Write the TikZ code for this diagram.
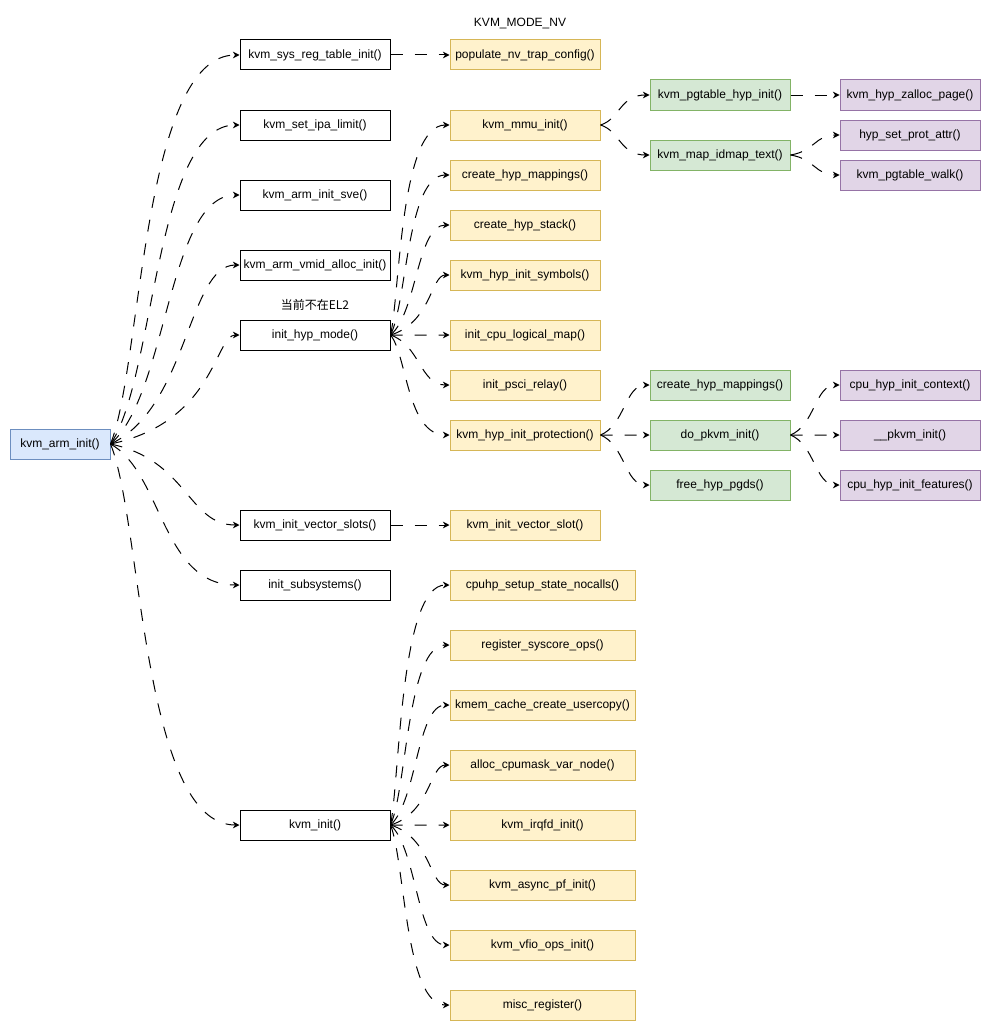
\documentclass[tikz,border=0pt]{standalone}
\usepackage{fontspec}
\setmainfont{Liberation Sans}
\newfontfamily\cjk{Noto Sans CJK SC}
\usetikzlibrary{arrows.meta,calc}
\definecolor{bluefill}{HTML}{DAE8FC}
\definecolor{blueline}{HTML}{6C8EBF}
\definecolor{yellowfill}{HTML}{FFF2CC}
\definecolor{yellowline}{HTML}{D6B656}
\definecolor{greenfill}{HTML}{D5E8D4}
\definecolor{greenline}{HTML}{82B366}
\definecolor{purplefill}{HTML}{E1D5E7}
\definecolor{purpleline}{HTML}{9673A6}

\begin{document}
\begin{tikzpicture}[x=0.75pt,y=-0.75pt,
  fn/.style={draw,line width=0.75pt,minimum width=112.5pt,minimum height=22.5pt,inner sep=0pt,font=\fontsize{9}{11}\selectfont},
  root/.style={fn,minimum width=75pt,fill=bluefill,draw=blueline},
  lvlone/.style={fn},
  lvltwo/.style={fn,fill=yellowfill,draw=yellowline},
  lvltwowide/.style={lvltwo,minimum width=138.75pt},
  lvlthree/.style={fn,minimum width=105pt,fill=greenfill,draw=greenline},
  lvlfour/.style={fn,minimum width=105pt,fill=purplefill,draw=purpleline},
  call/.style={-{Stealth[length=5pt,width=5pt]},line width=0.75pt,dash pattern=on 9pt off 9pt},
  note/.style={font=\fontsize{9}{11}\selectfont}]
  \useasboundingbox (0,0) rectangle (992,1031);
  % raiz
  \node[root] (armi) at (60,444) {kvm\_arm\_init()};
  % primeiro nivel
  \node[lvlone] (sysreg) at (315,55) {kvm\_sys\_reg\_table\_init()};
  \node[lvlone] (ipa) at (315,125) {kvm\_set\_ipa\_limit()};
  \node[lvlone] (sve) at (315,195) {kvm\_arm\_init\_sve()};
  \node[lvlone] (vmid) at (315,265) {kvm\_arm\_vmid\_alloc\_init()};
  \node[lvlone] (hypmode) at (315,335) {init\_hyp\_mode()};
  \node[lvlone] (vecslots) at (315,525) {kvm\_init\_vector\_slots()};
  \node[lvlone] (subsys) at (315,585) {init\_subsystems()};
  \node[lvlone] (kinit) at (315,825) {kvm\_init()};
  \node[note] (el2note) at (315,305) {\cjk 当前不在EL2};
  % segundo nivel
  \node[lvltwo] (nvtrap) at (525,55) {populate\_nv\_trap\_config()};
  \node[note] (nvnote) at (520,24) {KVM\_MODE\_NV};
  \node[lvltwo] (mmu) at (525,125) {kvm\_mmu\_init()};
  \node[lvltwo] (hypmap) at (525,175) {create\_hyp\_mappings()};
  \node[lvltwo] (hypstack) at (525,225) {create\_hyp\_stack()};
  \node[lvltwo] (hypsym) at (525,275) {kvm\_hyp\_init\_symbols()};
  \node[lvltwo] (cpumap) at (525,335) {init\_cpu\_logical\_map()};
  \node[lvltwo] (psci) at (525,385) {init\_psci\_relay()};
  \node[lvltwo] (hypprot) at (525,435) {kvm\_hyp\_init\_protection()};
  \node[lvltwo] (vecslot) at (525,525) {kvm\_init\_vector\_slot()};
  \node[lvltwowide] (cpuhp) at (542.5,585) {cpuhp\_setup\_state\_nocalls()};
  \node[lvltwowide] (syscore) at (542.5,645) {register\_syscore\_ops()};
  \node[lvltwowide] (kmem) at (542.5,705) {kmem\_cache\_create\_usercopy()};
  \node[lvltwowide] (cpumask) at (542.5,765) {alloc\_cpumask\_var\_node()};
  \node[lvltwowide] (irqfd) at (542.5,825) {kvm\_irqfd\_init()};
  \node[lvltwowide] (asyncpf) at (542.5,885) {kvm\_async\_pf\_init()};
  \node[lvltwowide] (vfio) at (542.5,945) {kvm\_vfio\_ops\_init()};
  \node[lvltwowide] (misc) at (542.5,1005) {misc\_register()};
  % terceiro nivel
  \node[lvlthree] (pgtinit) at (720,95) {kvm\_pgtable\_hyp\_init()};
  \node[lvlthree] (idmap) at (720,155) {kvm\_map\_idmap\_text()};
  \node[lvlthree] (pmap) at (720,385) {create\_hyp\_mappings()};
  \node[lvlthree] (dopkvm) at (720,435) {do\_pkvm\_init()};
  \node[lvlthree] (freepgd) at (720,485) {free\_hyp\_pgds()};
  % quarto nivel
  \node[lvlfour] (zalloc) at (910,95) {kvm\_hyp\_zalloc\_page()};
  \node[lvlfour] (protattr) at (910,135) {hyp\_set\_prot\_attr()};
  \node[lvlfour] (pgwalk) at (910,175) {kvm\_pgtable\_walk()};
  \node[lvlfour] (hypctx) at (910,385) {cpu\_hyp\_init\_context()};
  \node[lvlfour] (pkvm) at (910,435) {\_\_pkvm\_init()};
  \node[lvlfour] (hypfeat) at (910,485) {cpu\_hyp\_init\_features()};
  % chamadas (\v = x da parte vertical)
  \foreach \s/\t/\v in {armi/sysreg/142,armi/ipa/155,armi/sve/168,armi/vmid/188,armi/hypmode/215,
      armi/vecslots/188,armi/subsys/162,armi/kinit/142,
      hypmode/mmu/400,hypmode/hypmap/407,hypmode/hypstack/417,hypmode/hypsym/431,hypmode/cpumap/420,
      hypmode/psci/420,hypmode/hypprot/407,
      kinit/cpuhp/400,kinit/syscore/407,kinit/kmem/417,kinit/cpumask/430,kinit/irqfd/420,
      kinit/asyncpf/430,kinit/vfio/417,kinit/misc/405,
      mmu/pgtinit/620,mmu/idmap/620,idmap/protattr/815,idmap/pgwalk/815,
      hypprot/pmap/625,hypprot/dopkvm/625,hypprot/freepgd/625,
      dopkvm/hypctx/815,dopkvm/pkvm/815,dopkvm/hypfeat/815} {
    \coordinate (bend) at ($(\s.east)!0.2!(\t.west)$);
    \draw[call] (\s.east) .. controls (\v,0 |- bend) and (\v,0 |- \t.west) .. (\t.west);
  }
  \draw[call] (sysreg) -- (nvtrap);
  \draw[call] (pgtinit) -- (zalloc);
  \draw[call] (vecslots) -- (vecslot);
\end{tikzpicture}
\end{document}
